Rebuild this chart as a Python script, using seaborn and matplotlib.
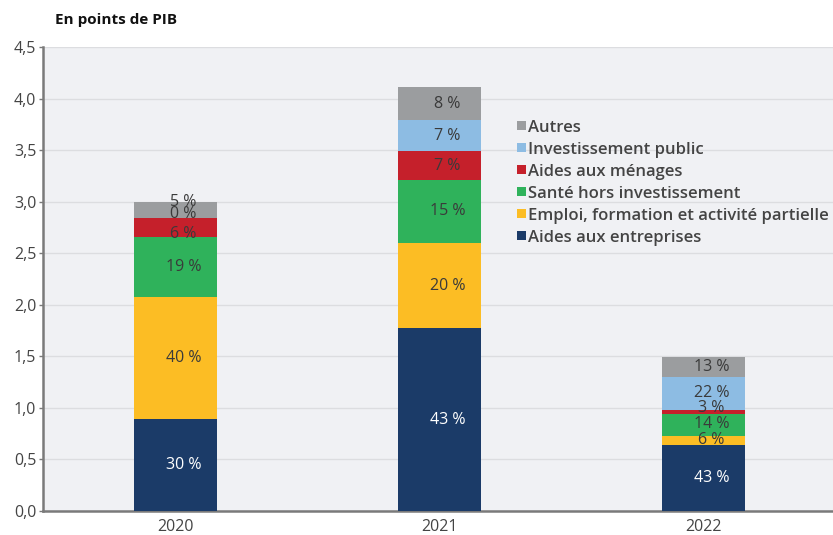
import matplotlib
matplotlib.use("Agg")
import matplotlib.pyplot as plt
from matplotlib.patches import Patch
import seaborn as sns
import pandas as pd
import numpy as np

years = ["2020", "2021", "2022"]
categories = ["Aides aux entreprises", "Emploi, formation et activité partielle",
              "Santé hors investissement", "Aides aux ménages",
              "Investissement public", "Autres"]
aides_entreprises = [0.89, 1.77, 0.64]
emploi_formation = [1.19, 0.83, 0.09]
sante = [0.58, 0.61, 0.21]
aides_menages = [0.18, 0.28, 0.04]
invest_public = [0.00, 0.30, 0.32]
autres = [0.16, 0.32, 0.19]
pct_entreprises = ["30 %", "43 %", "43 %"]
pct_emploi = ["40 %", "20 %", "6 %"]
pct_sante = ["19 %", "15 %", "14 %"]
pct_menages = ["6 %", "7 %", "3 %"]
pct_invest = ["0 %", "7 %", "22 %"]
pct_autres = ["5 %", "8 %", "13 %"]
yticks = [0.0, 0.5, 1.0, 1.5, 2.0, 2.5, 3.0, 3.5, 4.0, 4.5]
ytick_labels = ["0,0", "0,5", "1,0", "1,5", "2,0", "2,5", "3,0", "3,5", "4,0", "4,5"]

series = [aides_entreprises, emploi_formation, sante, aides_menages, invest_public, autres]
pcts = [pct_entreprises, pct_emploi, pct_sante, pct_menages, pct_invest, pct_autres]
colors = ["#1b3b68", "#fcbd24", "#2fb25b", "#c5202b", "#8dbce3", "#9b9d9f"]
text_colors = ["white", "#3a3a3a", "#3a3a3a", "#3a3a3a", "#3a3a3a", "#3a3a3a"]

# small vertical nudges of crowded labels (series index, year index) -> data units
nudges = {(5, 0): 0.08, (4, 0): 0.04, (3, 0): -0.06, (3, 2): 0.035, (2, 2): 0.01}

sns.set_theme(style="white")
plt.rcParams['font.family'] = ['Open Sans', 'DejaVu Sans']

fig = plt.figure(figsize=(8.33, 5.35), dpi=100)
ax = fig.add_axes([0.052, 0.045, 0.948, 0.867])
ax.set_facecolor("#f0f1f4")

cum = np.cumsum(np.array(series), axis=0)
df = pd.DataFrame({"year": years})
for i in range(len(series) - 1, -1, -1):
    df["v"] = cum[i]
    sns.barplot(data=df, x="year", y="v", color=colors[i], width=0.315,
                saturation=1, ax=ax, zorder=3, linewidth=0)

for i in range(len(series)):
    for j in range(len(years)):
        bottom = cum[i][j] - series[i][j]
        yc = bottom + series[i][j] / 2 + nudges.get((i, j), 0.0)
        ax.text(j + 0.03, yc, pcts[i][j], ha="center", va="center",
                fontsize=11.5, color=text_colors[i], zorder=5)

ax.set_xlim(-0.5, 2.49)
ax.set_ylim(0, 4.5)
ax.set_yticks(yticks)
ax.set_yticklabels(ytick_labels)
ax.yaxis.grid(True, color="#dcdde0", linewidth=1, zorder=0)
ax.set_axisbelow(True)
ax.set_xlabel("")
ax.set_ylabel("")
for s in ["top", "right"]:
    ax.spines[s].set_visible(False)
ax.spines["left"].set_color("#7a7a7a")
ax.spines["left"].set_linewidth(1.8)
ax.spines["bottom"].set_color("#7a7a7a")
ax.spines["bottom"].set_linewidth(1.8)
ax.tick_params(axis="y", length=3, width=1, color="#7a7a7a", labelsize=11.5,
               labelcolor="#444444", pad=2, left=True)
ax.tick_params(axis="x", length=0, labelsize=11.5, labelcolor="#444444", pad=6)

handles = [Patch(facecolor=colors[i], edgecolor="none") for i in range(len(series) - 1, -1, -1)]
labels = [categories[i] for i in range(len(series) - 1, -1, -1)]
leg = ax.legend(handles, labels, loc="upper left", bbox_to_anchor=(0.592, 0.858),
                frameon=False, fontsize=12, handlelength=0.5, handleheight=0.5,
                handletextpad=0.12, labelspacing=0.36, borderaxespad=0)
for t in leg.get_texts():
    t.set_color("#444444")
    t.set_fontweight("semibold")

fig.text(0.066, 0.963, "En points de PIB", fontsize=11, fontweight="bold",
         color="#111111", ha="left", va="center")

fig.savefig("out.png", dpi=100, facecolor="white")
